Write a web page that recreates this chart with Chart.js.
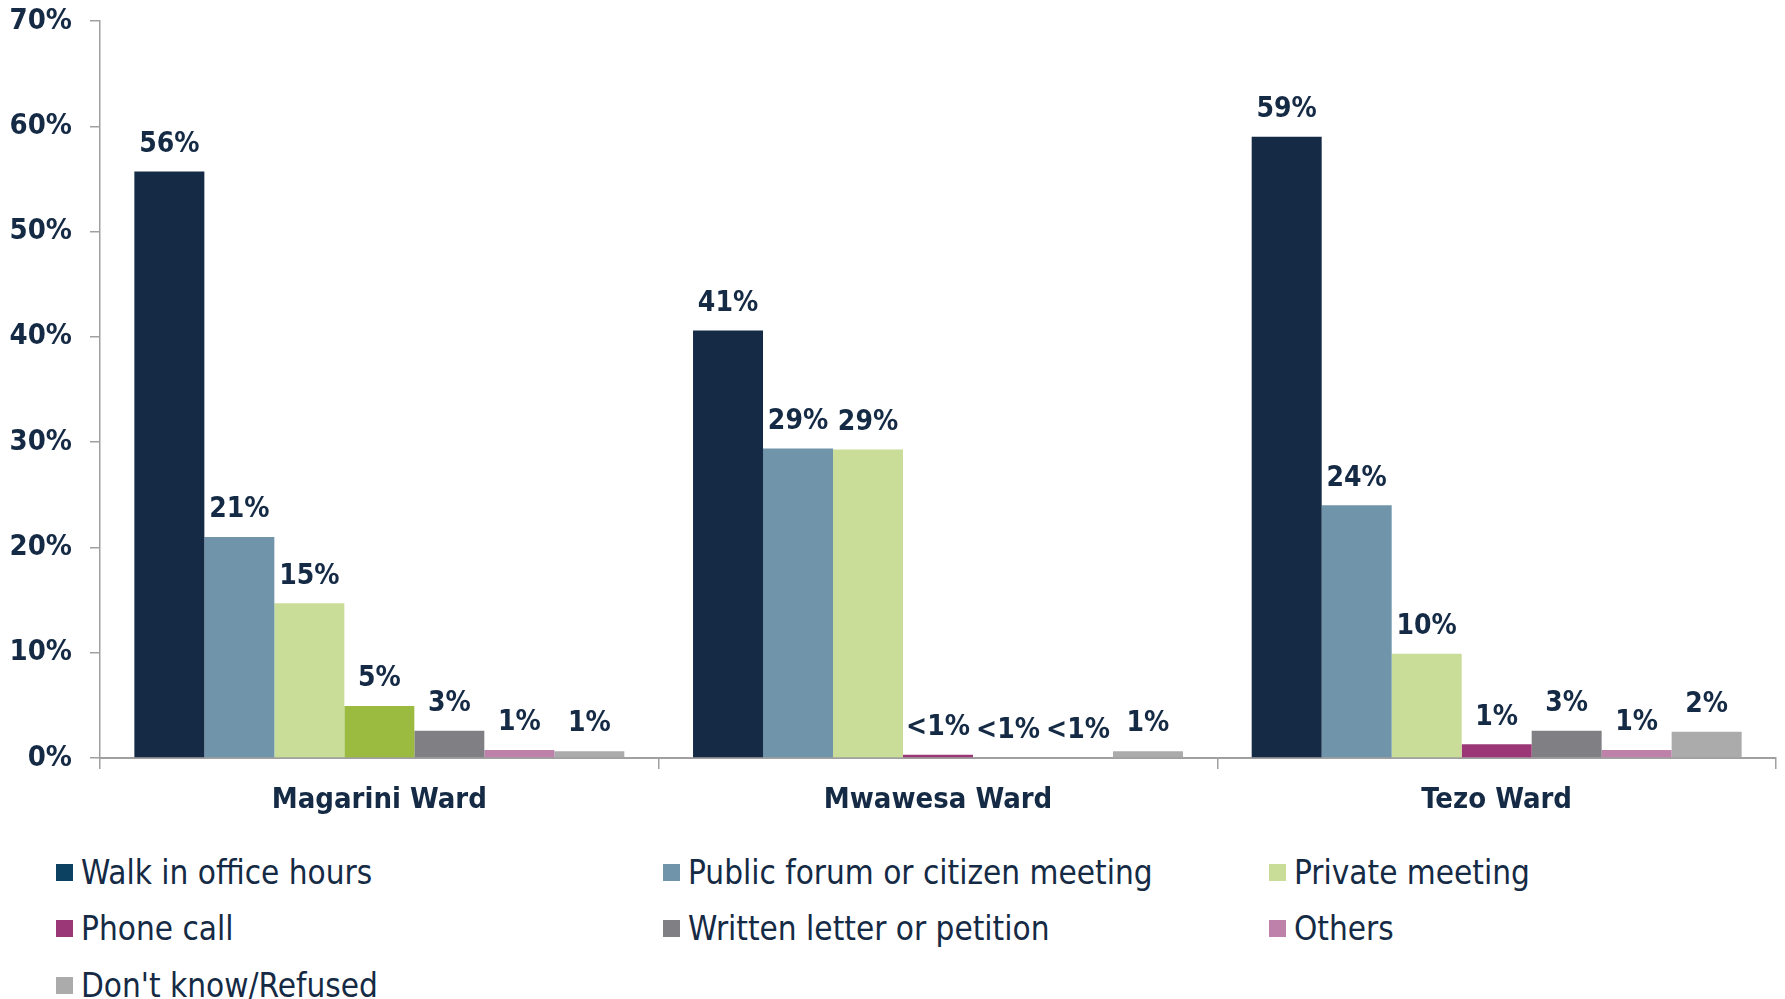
<!DOCTYPE html>
<html>
<head>
<meta charset="utf-8">
<script src="https://cdn.jsdelivr.net/npm/chart.js@4.4.1/dist/chart.umd.min.js"></script>
<style>
  body { margin: 0; background: #fff; width: 1785px; height: 999px; overflow: hidden; position: relative; }
  #wrap { position: absolute; left: 0; top: 0; width: 1785px; height: 840px; }
  #legend { position: absolute; left: 56px; top: 853px; width: 1729px;
            font-family: 'DejaVu Sans Condensed', 'DejaVu Sans', sans-serif; font-size: 33px; color: #152A44; }
  .item { position: absolute; white-space: nowrap; display: flex; align-items: center; }
  .box { width: 17px; height: 17px; margin-right: 8px; }
</style>
</head>
<body>
<div id="wrap"><canvas id="myChart"></canvas></div>
<div id="legend"></div>
<script>
const wards = ['Magarini Ward', 'Mwawesa Ward', 'Tezo Ward'];
const seriesNames = ['Walk in office hours', 'Public forum or citizen meeting', 'Private meeting',
  'Phone call', 'Written letter or petition', 'Others', "Don't know/Refused"];

// one array per series, values in % for Magarini, Mwawesa, Tezo
const walkIn    = [55.7, 40.6, 59.0];
const publicMtg = [21.0, 29.4, 24.0];
const privateMtg = [14.7, 29.3, 9.9];
const phoneCall = [4.95, 0.3, 1.3];
const written   = [2.6, 0, 2.6];
const others    = [0.75, 0, 0.75];
const dontKnow  = [0.65, 0.65, 2.5];

// printed labels
const walkInLbl    = ['56%', '41%', '59%'];
const publicMtgLbl = ['21%', '29%', '24%'];
const privateMtgLbl = ['15%', '29%', '10%'];
const phoneCallLbl = ['5%', '<1%', '1%'];
const writtenLbl   = ['3%', '<1%', '3%'];
const othersLbl    = ['1%', '<1%', '1%'];
const dontKnowLbl  = ['1%', '1%', '2%'];

const yTicks = [0, 10, 20, 30, 40, 50, 60, 70];

const values = [walkIn, publicMtg, privateMtg, phoneCall, written, others, dontKnow];
const labels = [walkInLbl, publicMtgLbl, privateMtgLbl, phoneCallLbl, writtenLbl, othersLbl, dontKnowLbl];

const colors = ['#152A45', '#7094AA', '#C9DC98', ['#9BBB40', '#9B3776', '#9B3776'], '#808084', '#BE82AA', '#ABABAB'];
const legendColors = ['#0D4162', '#7094AA', '#C9DC98', '#9B3776', '#808084', '#BE82AA', '#ABABAB'];

const textColor = '#152A44';
const axisColor = '#A0A0A0';
const fontFam = "'DejaVu Sans Condensed', 'DejaVu Sans', sans-serif";

const barLabels = {
  id: 'barLabels',
  afterDatasetsDraw(chart) {
    const ctx = chart.ctx;
    ctx.save();
    ctx.font = 'bold 28px ' + fontFam;
    ctx.fillStyle = textColor;
    ctx.textAlign = 'center';
    ctx.textBaseline = 'middle';
    chart.data.datasets.forEach((ds, d) => {
      chart.getDatasetMeta(d).data.forEach((el, i) => {
        ctx.fillText(labels[d][i], el.x, el.y - 27);
      });
    });
    ctx.restore();
  }
};

const ctx = document.getElementById('myChart');
var myChart = new Chart(ctx, {
  type: 'bar',
  data: {
    labels: wards,
    datasets: seriesNames.map((name, i) => ({
      label: name,
      data: values[i],
      backgroundColor: colors[i],
      borderWidth: 0
    }))
  },
  options: {
    responsive: true,
    maintainAspectRatio: false,
    animation: false,
    layout: { padding: { left: 0, top: 21, right: 9, bottom: 0 } },
    categoryPercentage: 0.877,
    barPercentage: 1,
    plugins: { legend: { display: false }, tooltip: { enabled: false } },
    scales: {
      x: {
        afterFit: s => { s.height = 82; },
        grid: { offset: true, drawOnChartArea: false, drawTicks: true, tickLength: 11, color: axisColor, lineWidth: 1.5 },
        border: { color: axisColor, width: 2 },
        ticks: { color: textColor, padding: 14, font: { family: fontFam, size: 29, weight: 'bold' } }
      },
      y: {
        min: 0, max: 70,
        afterFit: s => { s.width = 100; s.paddingTop = 0; s.paddingBottom = 0; },
        afterBuildTicks: s => { s.ticks = yTicks.map(v => ({ value: v })); },
        grid: { drawOnChartArea: false, drawTicks: true, tickLength: 10, color: axisColor, lineWidth: 1.5 },
        border: { color: axisColor, width: 1.5 },
        ticks: { color: textColor, padding: 18, font: { family: fontFam, size: 29, weight: 'bold' },
                 callback: v => v + '%' }
      }
    }
  },
  plugins: [barLabels]
});

// legend laid out in three columns
const legendEl = document.getElementById('legend');
const colX = [0, 607, 1213];
const rowY = [0, 56, 113];
myChart.data.datasets.forEach((ds, i) => {
  const item = document.createElement('div');
  item.className = 'item';
  item.style.left = colX[i % 3] + 'px';
  item.style.top = rowY[Math.floor(i / 3)] + 'px';
  const box = document.createElement('span');
  box.className = 'box';
  box.style.background = legendColors[i];
  const txt = document.createElement('span');
  txt.textContent = ds.label;
  item.appendChild(box);
  item.appendChild(txt);
  legendEl.appendChild(item);
});
</script>
</body>
</html>
